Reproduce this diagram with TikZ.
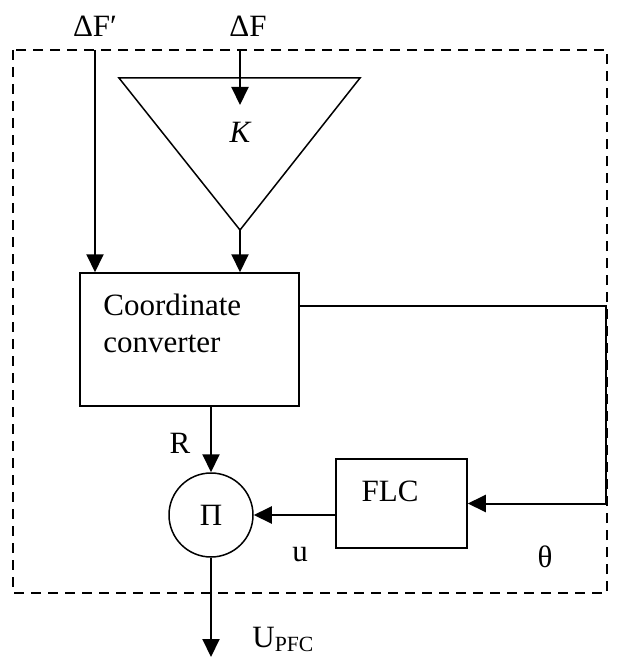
\documentclass[tikz,border=0pt]{standalone}
\usepackage{fontspec}
\setmainfont{Liberation Serif}
\usetikzlibrary{arrows.meta,positioning}

\begin{document}
\begin{tikzpicture}[
  x=0.5pt, y=-0.5pt,
  font=\fontsize{15.5}{18.5}\selectfont,
  blk/.style={rectangle,draw,line width=0.75pt,inner sep=0pt},
  lbl/.style={inner sep=0pt},
  arr/.style={-{Triangle[length=9pt,width=8.5pt]},line width=1pt},
]
\useasboundingbox (0,0) rectangle (616,658);
\draw[line width=0.7pt,dash pattern=on 5pt off 3.5pt] (13,50) rectangle (607,593);

% gain triangle
\coordinate (tl) at (119,78);
\coordinate (tr) at (360,78);
\coordinate (apex) at (240,230);
\draw[line width=0.75pt] (tl) -- (tr) -- (apex) -- cycle;
\node[lbl,font=\fontsize{15.5}{18.5}\selectfont\itshape] (gain) at (240,132) {K};

% blocks
\node[blk,minimum width=109.5pt,minimum height=66.5pt] (conv) at (189.5,339.5) {};
\node[lbl,align=left,anchor=north west] (convtxt) at (103,294) {Coordinate\\converter};
\node[blk,circle,minimum size=42pt] (mul) at (211,515) {Π};
\node[blk,minimum width=65.5pt,minimum height=44.5pt] (flc) at (401.5,503.5) {};
\node[lbl] (flctxt) at (390,491) {FLC};

% signal labels
\node[lbl] (dfp) at (95,26) {ΔF′};
\node[lbl] (df) at (248,26) {ΔF};
\node[lbl] (rlbl) at (180,443) {R};
\node[lbl] (ulbl) at (300,555) {u};
\node[lbl] (thlbl) at (545,557) {θ};
\node[lbl,anchor=base west] (upfc) at (252,647) {U\textsubscript{PFC}};

\coordinate (dfpin) at (95,50);
\coordinate (dfin) at (240,50);
\coordinate (dfend) at (240,105);
\coordinate (fb) at (606,306);
\coordinate (out) at (211,657);

% connections
\draw[arr] (dfpin) -- (dfpin |- conv.north);
\draw[arr] (dfin) -- (dfend);
\draw[arr] (apex) -- (apex |- conv.north);
\draw[arr] (mul |- conv.south) -- (mul.north);
\draw[arr] (fb -| conv.east) -- (fb) |- (flc.east);
\draw[arr] (flc.west |- mul) -- (mul.east);
\draw[arr] (mul.south) -- (out);
\end{tikzpicture}
\end{document}
